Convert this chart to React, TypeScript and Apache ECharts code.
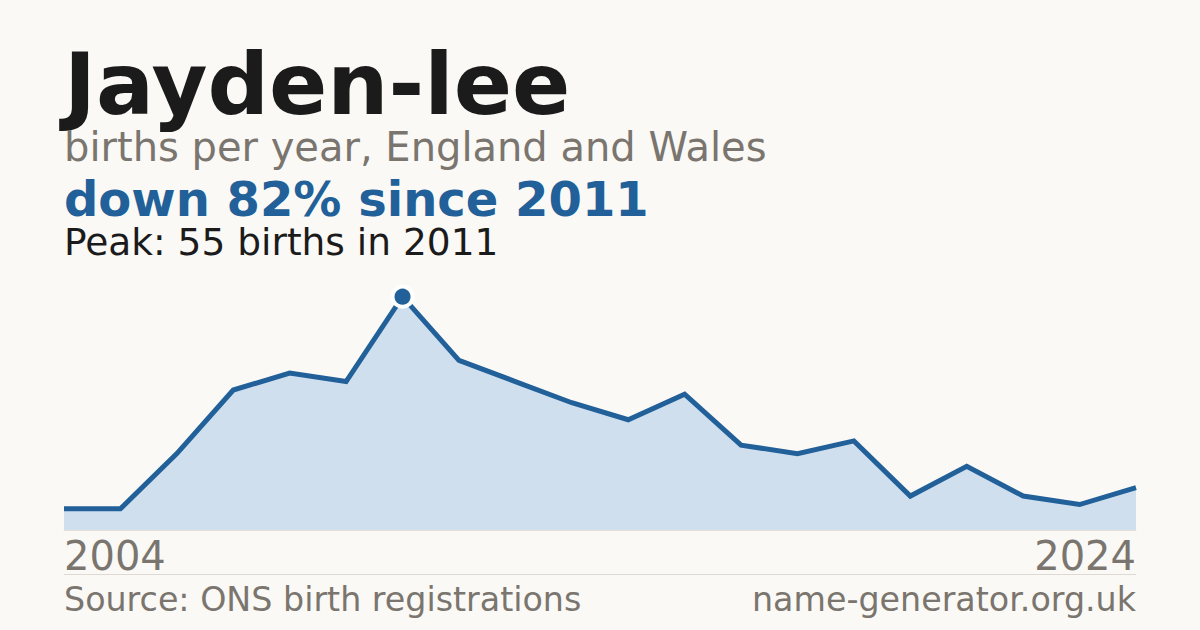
import React, { useEffect, useRef } from 'react';
import * as echarts from 'echarts';

const YEARS = ['2004', '2006', '2007', '2008', '2009', '2010', '2011', '2012', '2013', '2014', '2015', '2016', '2017', '2018', '2019', '2020', '2021', '2022', '2023', '2024'];
const BIRTHS = [5, 5, 18, 33, 37, 35, 55, 40, 35, 30, 26, 32, 20, 18, 21, 8, 15, 8, 6, 10];
const SHOWN_TICKS = ['2004', '2024'];

const TITLE = 'Jayden-lee';
const SUBTITLE = 'births per year, England and Wales';
const HEADLINE = 'down 82% since 2011';
const PEAK_TEXT = 'Peak: 55 births in 2011';
const SOURCE = 'Source: ONS birth registrations';
const SITE = 'name-generator.org.uk';

const FONT = '"DejaVu Sans", Verdana, sans-serif';
const BG = '#faf9f5';
const BLUE = '#22609a';
const GRAY = '#7a756e';
const DARK = '#1b1b1b';

// y for middle-aligned text from a desired baseline
const mid = (baseline: number, size: number) => baseline - 0.346 * size;

export default function App() {
  const ref = useRef<HTMLDivElement>(null);
  useEffect(() => {
    document.body.style.margin = '0';
    const chart = echarts.init(ref.current!, null, { renderer: 'svg' });
    const peak = Math.max(...BIRTHS);
    const peakIdx = BIRTHS.indexOf(peak);
    const text = (t: string, x: number, base: number, size: number, lh: number, color: string, weight: any, align = 'left') => ({
      type: 'text',
      x,
      y: mid(base, size),
      style: {
        text: t,
        fill: color,
        font: `${weight} ${size}px ${FONT}`,
        lineHeight: lh,
        textAlign: align,
        textVerticalAlign: 'middle',
      },
    });
    chart.setOption({
      animation: false,
      backgroundColor: BG,
      grid: { left: 64, right: 64, top: 296.7, bottom: 100, containLabel: false },
      xAxis: {
        type: 'category',
        data: YEARS,
        boundaryGap: false,
        axisLine: { show: true, lineStyle: { color: '#e6e0d8', width: 1 } },
        axisTick: { show: false },
        splitLine: { show: false },
        axisLabel: {
          interval: 0,
          formatter: (v: string) => (SHOWN_TICKS.includes(v) ? v : ''),
          color: GRAY,
          fontFamily: FONT,
          fontSize: 40,
          lineHeight: 36,
          margin: 8,
          alignMinLabel: 'left',
          alignMaxLabel: 'right',
        },
      },
      yAxis: {
        type: 'value',
        min: 0,
        max: peak,
        show: false,
        splitLine: { show: false },
      },
      series: [
        {
          type: 'line',
          data: BIRTHS,
          symbol: 'none',
          lineStyle: { color: BLUE, width: 5, join: 'miter' },
          areaStyle: { color: '#cfdfee', opacity: 1 },
          z: 2,
        },
        {
          type: 'scatter',
          data: [[peakIdx, peak]],
          symbol: 'circle',
          symbolSize: 20,
          itemStyle: { color: BLUE, borderColor: '#ffffff', borderWidth: 4, opacity: 1 },
          z: 3,
        },
      ],
      graphic: [
        text(TITLE, 64, 113.5, 86, 68, DARK, 'bold'),
        text(SUBTITLE, 64, 160.5, 40, 34, GRAY, 'normal'),
        text(HEADLINE, 64, 215.5, 48, 40, BLUE, 'bold'),
        text(PEAK_TEXT, 64, 255, 37.5, 32, DARK, 'normal'),
        {
          type: 'line',
          shape: { x1: 64, y1: 574.5, x2: 1136, y2: 574.5 },
          style: { stroke: '#dedad3', lineWidth: 1 },
        },
        text(SOURCE, 64, 611, 33.3, 30, GRAY, 'normal'),
        text(SITE, 1136, 611, 33.3, 30, GRAY, 'normal', 'right'),
      ],
    });
    return () => chart.dispose();
  }, []);
  return <div ref={ref} style={{ width: 1200, height: 630, background: BG }} />;
}
